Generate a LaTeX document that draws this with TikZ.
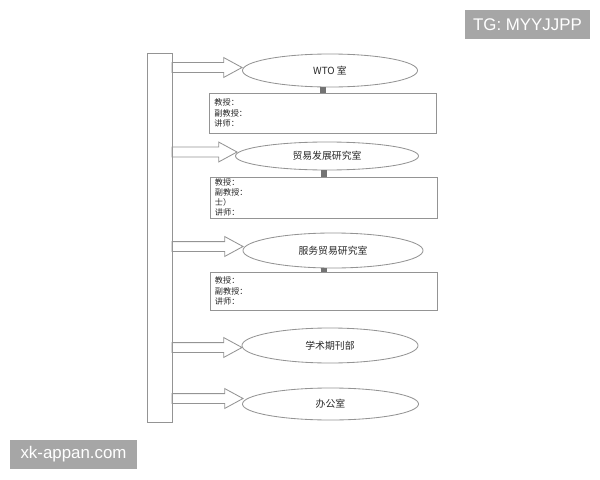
\documentclass[tikz,border=0pt]{standalone}
\usepackage{fontspec}
\setmainfont{Liberation Sans}
\newfontfamily\cjk{Noto Sans CJK SC}
\usetikzlibrary{shapes.geometric,shapes.arrows}
\begin{document}
\begin{tikzpicture}[x=0.025cm,y=-0.025cm,black!42,line width=0.6pt,
    dept/.style={ellipse,draw,inner sep=0pt,outer sep=0pt,text=black!85,font=\cjk\fontsize{7}{8}\selectfont},
    staffbox/.style={rectangle,draw,inner xsep=0.125cm,inner ysep=0pt,outer sep=0pt,text width=5.425cm,align=left,text=black!85,font=\cjk\fontsize{5.8}{7.3}\selectfont},
    blockarrow/.style={single arrow,draw,anchor=tail,inner xsep=0pt,inner ysep=0.1125cm,outer sep=0pt,minimum width=0.475cm,single arrow head extend=0.125cm,single arrow tip angle=57},
    link/.style={draw=black!55,line width=0.15cm},
    tagbox/.style={rectangle,fill=black!35,text=white,inner sep=0pt,font=\fontsize{12}{14}\selectfont}]
  \useasboundingbox (0,0) rectangle (600,480);
  \node[draw,minimum width=0.625cm,minimum height=9.225cm,inner sep=0pt,outer sep=0pt] (bar) at (159.5,237.5) {};
  \node[dept,minimum width=4.375cm,minimum height=0.825cm] (wto) at (330,70.5) {WTO 室};
  \node[dept,minimum width=4.575cm,minimum height=0.7cm] (trade) at (327,156) {贸易发展研究室};
  \node[dept,minimum width=4.5cm,minimum height=0.875cm] (service) at (333,250.5) {服务贸易研究室};
  \node[dept,minimum width=4.4cm,minimum height=0.875cm] (journal) at (330,345.5) {学术期刊部};
  \node[dept,minimum width=4.4cm,minimum height=0.8cm] (office) at (330.5,404) {办公室};
  \node[blockarrow,minimum height=1.75cm] (a1) at (bar.east |- 0,67.5) {};
  \node[blockarrow,minimum height=1.625cm] (a2) at (bar.east |- 0,152) {};
  \node[blockarrow,minimum height=1.775cm] (a3) at (bar.east |- 0,246.5) {};
  \node[blockarrow,minimum height=1.75cm] (a4) at (bar.east |- 0,347.5) {};
  \node[blockarrow,minimum height=1.775cm] (a5) at (bar.east |- 0,398.5) {};
  \node[staffbox,minimum height=1cm] (wtostaff) at (323,113) {教授：\\副教授：\\讲师：};
  \node[staffbox,minimum height=1.025cm] (tradestaff) at (323.5,197.5) {教授：\\副教授：\\士）\\讲师：};
  \node[staffbox,minimum height=0.95cm] (servicestaff) at (323.5,291) {教授：\\副教授：\\讲师：};
  \draw[link] (wtostaff.north) -- (wtostaff.north |- wto.south);
  \draw[link] (tradestaff.north) -- (tradestaff.north |- trade.south);
  \draw[link] (servicestaff.north) -- (servicestaff.north |- service.south);
  \node[tagbox,minimum width=3.125cm,minimum height=0.725cm] (tg) at (527.5,24.5) {TG: MYYJJPP};
  \node[tagbox,minimum width=3.175cm,minimum height=0.725cm] (site) at (73.5,454.5) {xk-appan.com};
\end{tikzpicture}
\end{document}
